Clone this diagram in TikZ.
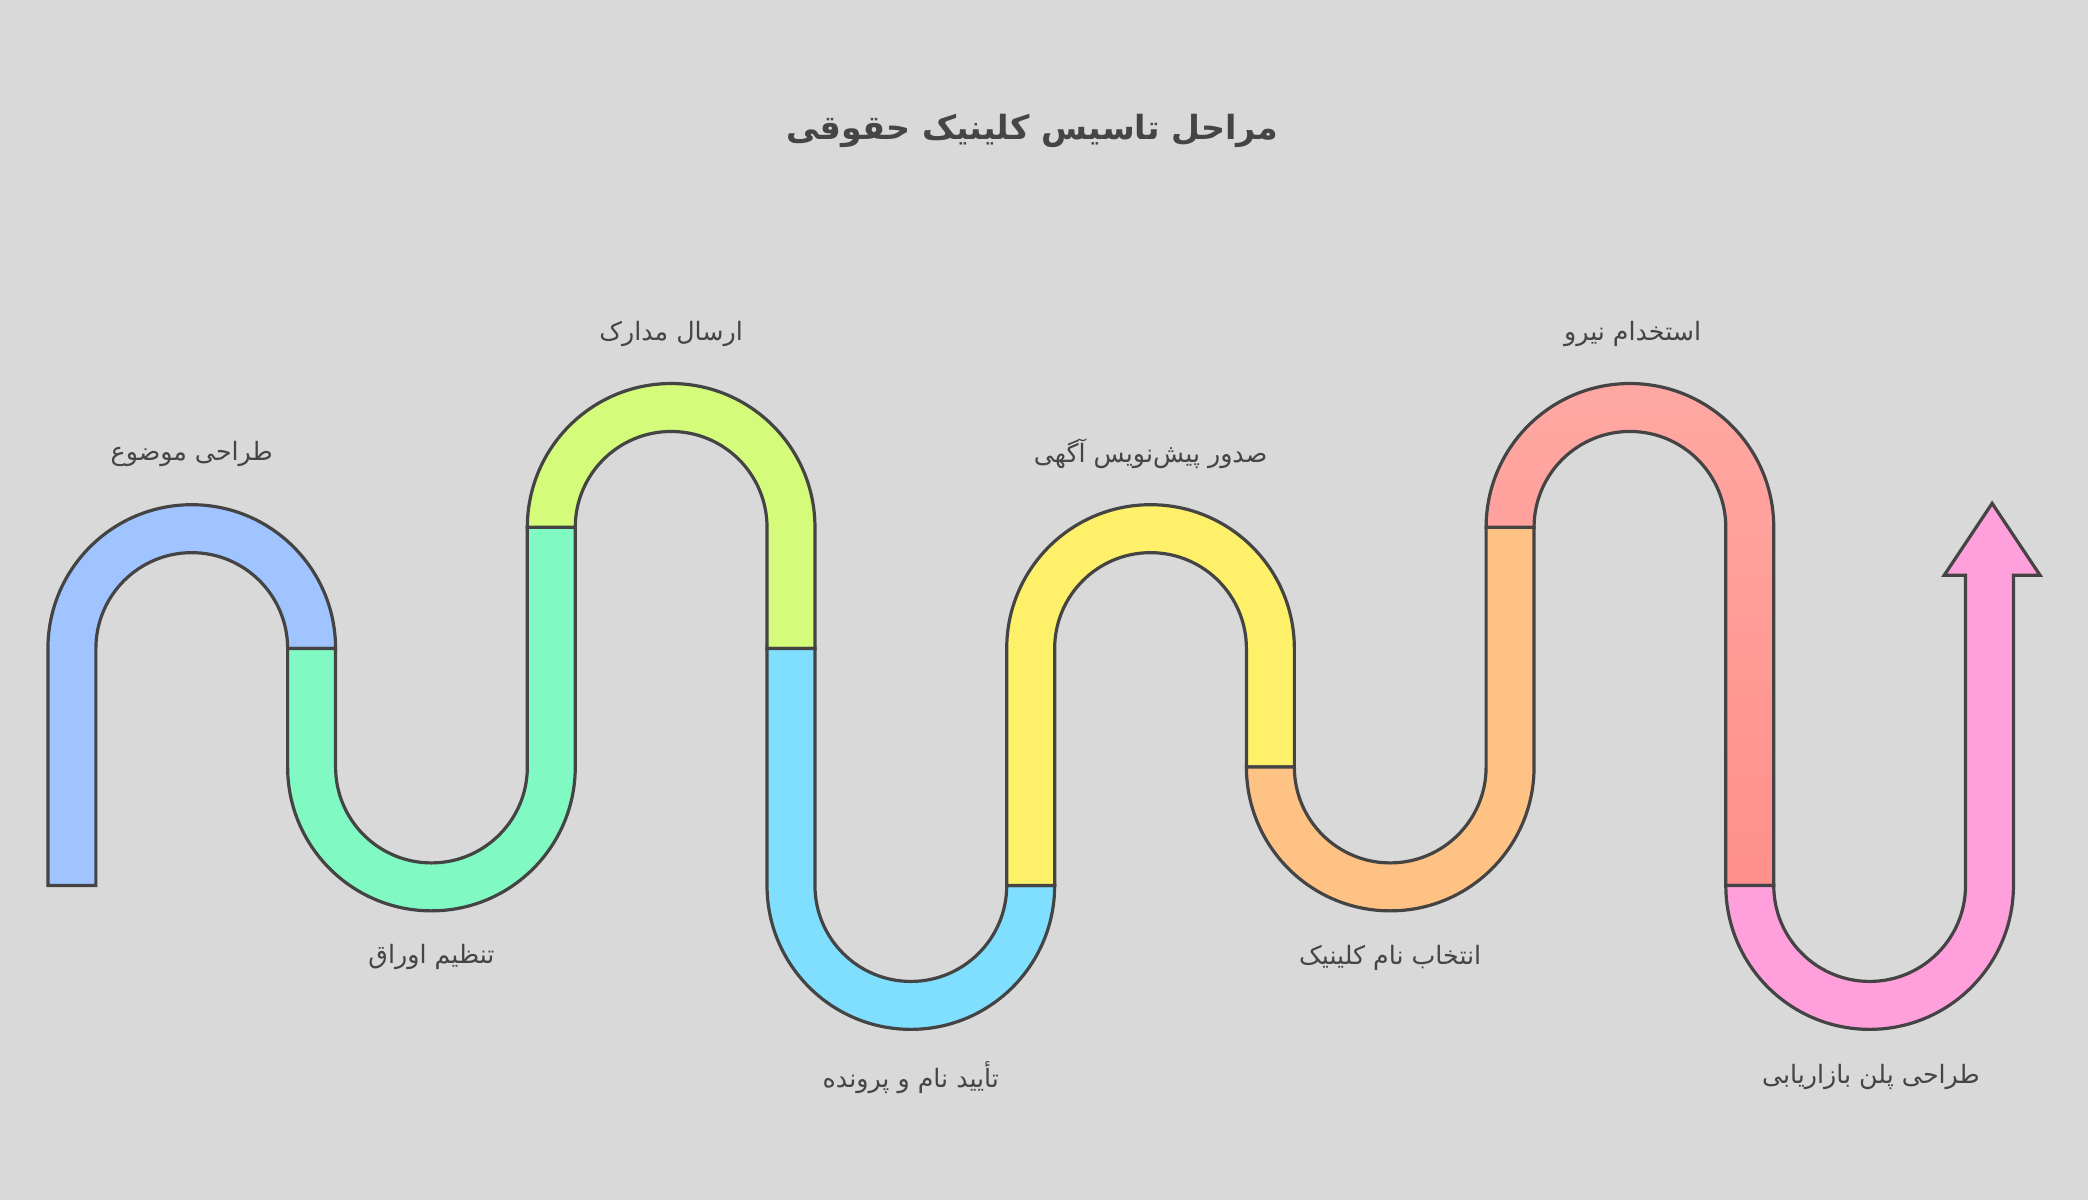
\documentclass[tikz,border=0pt]{standalone}
\usepackage{fontspec}
\usetikzlibrary{shadings}
\newfontfamily\arabicfont[Script=Arabic]{DejaVu Sans}
\TeXXeTstate=1
\definecolor{bgcol}{HTML}{D9D9D9}
\definecolor{linecol}{HTML}{444444}
\definecolor{txtcol}{HTML}{454545}
\definecolor{stepblue}{HTML}{A0C4FF}
\definecolor{stepgreen}{HTML}{80F9C2}
\definecolor{steplime}{HTML}{D4FB79}
\definecolor{stepcyan}{HTML}{80DFFF}
\definecolor{stepyellow}{HTML}{FFF06A}
\definecolor{steporange}{HTML}{FFC285}
\definecolor{stepredtop}{HTML}{FFA8A3}
\definecolor{stepredbot}{HTML}{FF8F8A}
\definecolor{steppink}{HTML}{FFA0DC}
\tikzset{
  tube/.style={draw=linecol, line width=1.2pt, line join=miter},
  lbl/.style={text=txtcol, font=\arabicfont\fontsize{9.5}{11}\selectfont},
  heading/.style={text=txtcol, font=\arabicfont\bfseries\fontsize{12.5}{15}\selectfont}
}

\begin{document}
\begin{tikzpicture}[x=0.5pt, y=-0.5pt]
	\fill[bgcol] (0,0) rectangle (1568,901);
	\useasboundingbox (0,0) rectangle (1568,901);
	\node[heading] (title) at (775,98) {\beginR مراحل تاسیس کلینیک حقوقی\endR};
	\filldraw[tube, fill=stepblue] (36,665) -- (36,487) arc[start angle=180, end angle=360, radius=108] -- (216,487) arc[start angle=0, end angle=-180, radius=72] -- (72,665) -- cycle;
	\filldraw[tube, fill=stepgreen] (216,487) -- (216,576) arc[start angle=180, end angle=0, radius=108] -- (432,396) -- (396,396) -- (396,576) arc[start angle=0, end angle=180, radius=72] -- (252,487) -- cycle;
	\filldraw[tube, fill=steplime] (396,396) arc[start angle=180, end angle=360, radius=108] -- (612,487) -- (576,487) -- (576,396) arc[start angle=0, end angle=-180, radius=72] -- cycle;
	\filldraw[tube, fill=stepcyan] (576,487) -- (576,665) arc[start angle=180, end angle=0, radius=108] -- (756,665) arc[start angle=0, end angle=180, radius=72] -- (612,487) -- cycle;
	\filldraw[tube, fill=stepyellow] (756,665) -- (756,487) arc[start angle=180, end angle=360, radius=108] -- (972,576) -- (936,576) -- (936,487) arc[start angle=0, end angle=-180, radius=72] -- (792,665) -- cycle;
	\filldraw[tube, fill=steporange] (936,576) arc[start angle=180, end angle=0, radius=108] -- (1152,396) -- (1116,396) -- (1116,576) arc[start angle=0, end angle=180, radius=72] -- cycle;
	\shade[top color=stepredtop, middle color=stepredtop, bottom color=stepredbot] (1116,396) arc[start angle=180, end angle=360, radius=108] -- (1332,665) -- (1296,665) -- (1296,396) arc[start angle=0, end angle=-180, radius=72] -- cycle;
	\draw[tube] (1116,396) arc[start angle=180, end angle=360, radius=108] -- (1332,665) -- (1296,665) -- (1296,396) arc[start angle=0, end angle=-180, radius=72] -- cycle;
	\filldraw[tube, fill=steppink] (1296,665) arc[start angle=180, end angle=0, radius=108] -- (1512,432) -- (1532,432) -- (1496,378) -- (1460,432) -- (1476,432) -- (1476,665) arc[start angle=0, end angle=180, radius=72] -- cycle;
	\node[lbl] (topic) at (144,341) {\beginR طراحی موضوع\endR};
	\node[lbl] (papers) at (324,719) {\beginR تنظیم اوراق\endR};
	\node[lbl] (documents) at (504,251) {\beginR ارسال مدارک\endR};
	\node[lbl] (approval) at (684,809) {\beginR تأیید نام و پرونده\endR};
	\node[lbl] (notice) at (864,341) {\beginR صدور پیش‌نویس آگهی\endR};
	\node[lbl] (clinicname) at (1044,719) {\beginR انتخاب نام کلینیک\endR};
	\node[lbl] (hiring) at (1226,251) {\beginR استخدام نیرو\endR};
	\node[lbl] (marketing) at (1405,809) {\beginR طراحی پلن بازاریابی\endR};
\end{tikzpicture}
\end{document}
